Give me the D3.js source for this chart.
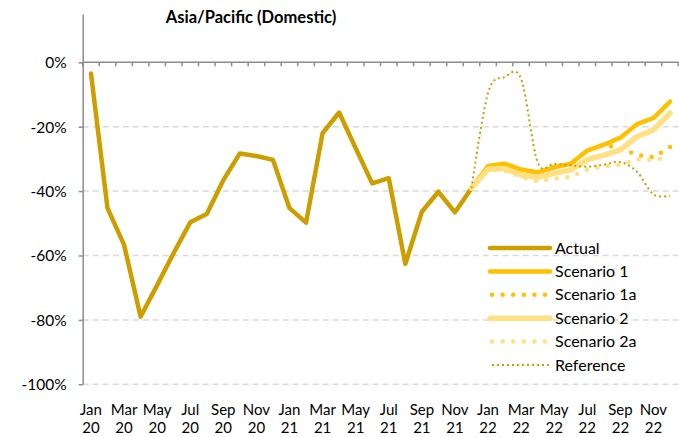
<!DOCTYPE html>
<html>
<head>
<meta charset="utf-8">
<script src="https://cdn.jsdelivr.net/npm/d3@7"></script>
<style>
  body { margin: 0; background: #fff; }
  svg { display: block; }
  text { font-family: Lato, "Open Sans", sans-serif; fill: #000; }
</style>
</head>
<body>
<svg id="chart" width="679" height="437"></svg>
<script>
// Months shown on the category axis
const monthNames = ["Jan","Feb","Mar","Apr","May","Jun","Jul","Aug","Sep","Oct","Nov","Dec"];
const years = ["20","21","22"];
const categories = years.flatMap(y => monthNames.map(m => m + " " + y));

// Observed values, Jan 20 – Dec 21 (% change)
const actual = [-3.5, -45.3, -56.7, -79, -69.2, -59.2, -49.7, -47.1, -36.6, -28.3, -29.1, -30.3,
                -45.3, -49.8, -22, -15.6, -26.7, -37.6, -36, -62.6, -46.4, -40.2, -46.6, -39.1];

// Projections, Dec 21 – Dec 22
const forecastMonths = categories.slice(23);
const scenario1  = [-39.1, -32.2, -31.5, -33.3, -34.2, -32.6, -31.5, -27.4, -25.6, -23.4, -19.2, -17.3, -12.2];
const scenario1a = [-39.1, -32.2, -31.5, -33.3, -34.2, -32.6, -31.5, -27.4, -25.6, -26.6, -28.8, -29.5, -26.3];
const scenario2  = [-39.1, -33.2, -33.0, -35.0, -35.7, -34.5, -33.4, -30.2, -28.8, -27.2, -23.1, -21.0, -15.8];
const scenario2a = [-39.1, -33.4, -33.6, -35.6, -37.0, -36.2, -35.6, -33.3, -32.3, -31.8, -30.2, -30.3, -29.4];
const reference  = [-39.1, -9.5, -4.6, -5.2, -31, -31.5, -32, -32.4, -31.8, -31, -34, -41, -41.4];

const yTicks = [0, -20, -40, -60, -80, -100];

const svg = d3.select("#chart");

const x = d3.scaleBand().domain(categories).range([82.7, 678.3]);
const y = d3.scaleLinear().domain([-100, 15]).range([384.3, 14]);
const cx = c => x(c) + x.bandwidth() / 2;

// Title
svg.append("text")
  .attr("x", 251).attr("y", 23)
  .attr("text-anchor", "middle")
  .style("font-weight", "bold").style("font-size", "16.5px")
  .text("Asia/Pacific (Domestic)");

// Dashed horizontal gridlines
svg.append("g").selectAll("line")
  .data(yTicks.filter(d => d !== 0))
  .join("line")
  .attr("x1", x.range()[0]).attr("x2", x.range()[1])
  .attr("y1", d => y(d)).attr("y2", d => y(d))
  .attr("stroke", "#d9d9d9").attr("stroke-width", 1.5)
  .attr("stroke-dasharray", "6 4");

// Value axis
const yAxis = svg.append("g")
  .attr("transform", `translate(${x.range()[0]},0)`)
  .call(d3.axisLeft(y).tickValues(yTicks).tickFormat(d => d + "%").tickSize(4).tickSizeOuter(0));
yAxis.select(".domain").attr("stroke", "#8c8c8c").attr("stroke-width", 1.5);
yAxis.selectAll(".tick line").attr("stroke", "#8c8c8c").attr("stroke-width", 1.5);
yAxis.selectAll(".tick text")
  .attr("x", -16).attr("dy", "0.35em")
  .style("font-size", "15.5px").style("font-family", "Lato, 'Open Sans', sans-serif");

// Category axis crossing at 0%, ticks between months
const x0 = y(0);
const xAxis = svg.append("g");
xAxis.append("line")
  .attr("x1", x.range()[0]).attr("x2", x.range()[1])
  .attr("y1", x0).attr("y2", x0)
  .attr("stroke", "#8c8c8c").attr("stroke-width", 1.5);
xAxis.selectAll("line.tick")
  .data(categories.map(c => x(c)).concat([x.range()[1]]))
  .join("line").attr("class", "tick")
  .attr("x1", d => d).attr("x2", d => d)
  .attr("y1", x0).attr("y2", x0 + 4)
  .attr("stroke", "#8c8c8c").attr("stroke-width", 1.5);

// Month / year labels along the bottom
const labelled = categories.filter((c, i) => i % 2 === 0);
const lbl = svg.append("g").selectAll("text")
  .data(labelled)
  .join("text")
  .attr("text-anchor", "middle")
  .style("font-size", "15px");
lbl.append("tspan").attr("x", d => cx(d)).attr("y", 415).text(d => d.split(" ")[0]);
lbl.append("tspan").attr("x", d => cx(d)).attr("y", 432.5).text(d => d.split(" ")[1]);

// Series
const line = d3.line().x(d => cx(d.c)).y(d => y(d.v));
const smooth = d3.line().x(d => cx(d.c)).y(d => y(d.v)).curve(d3.curveCardinal.tension(0));

const series = [
  { name: "Actual",      months: categories.slice(0, 24), values: actual,     color: "#cc9e00", width: 4.5, dash: null,     cap: "round", gen: line },
  { name: "Scenario 1",  months: forecastMonths,          values: scenario1,  color: "#ffc000", width: 4.5, dash: null,     cap: "round", gen: line },
  { name: "Scenario 1a", months: forecastMonths,          values: scenario1a, color: "#ffc000", width: 4.5, dash: "0 10.6", cap: "round", gen: line },
  { name: "Scenario 2",  months: forecastMonths,          values: scenario2,  color: "#ffe083", width: 5.5, dash: null,     cap: "round", gen: line },
  { name: "Scenario 2a", months: forecastMonths,          values: scenario2a, color: "#ffe083", width: 4.5, dash: "0 10.6", cap: "round", gen: line },
  { name: "Reference",   months: forecastMonths,          values: reference,  color: "#c89d00", width: 2,   dash: "2 3",    cap: "butt",  gen: smooth }
];

svg.append("g").selectAll("path")
  .data(series)
  .join("path")
  .attr("d", s => s.gen(s.values.map((v, i) => ({ c: s.months[i], v }))))
  .attr("fill", "none")
  .attr("stroke", s => s.color)
  .attr("stroke-width", s => s.width)
  .attr("stroke-linecap", s => s.cap)
  .attr("stroke-linejoin", "round")
  .attr("stroke-dasharray", s => s.dash);

// Legend
const legend = svg.append("g").selectAll("g")
  .data(series)
  .join("g")
  .attr("transform", (s, i) => `translate(490,${248 + i * 23.4})`);
legend.append("line")
  .attr("x1", s => s.dash ? 2 : 0).attr("x2", 60)
  .attr("stroke", s => s.color)
  .attr("stroke-width", s => s.width)
  .attr("stroke-linecap", s => s.cap)
  .attr("stroke-dasharray", s => s.dash);
legend.append("text")
  .attr("x", 65).attr("dy", "0.35em")
  .style("font-size", "16px")
  .text(s => s.name);
</script>
</body>
</html>
